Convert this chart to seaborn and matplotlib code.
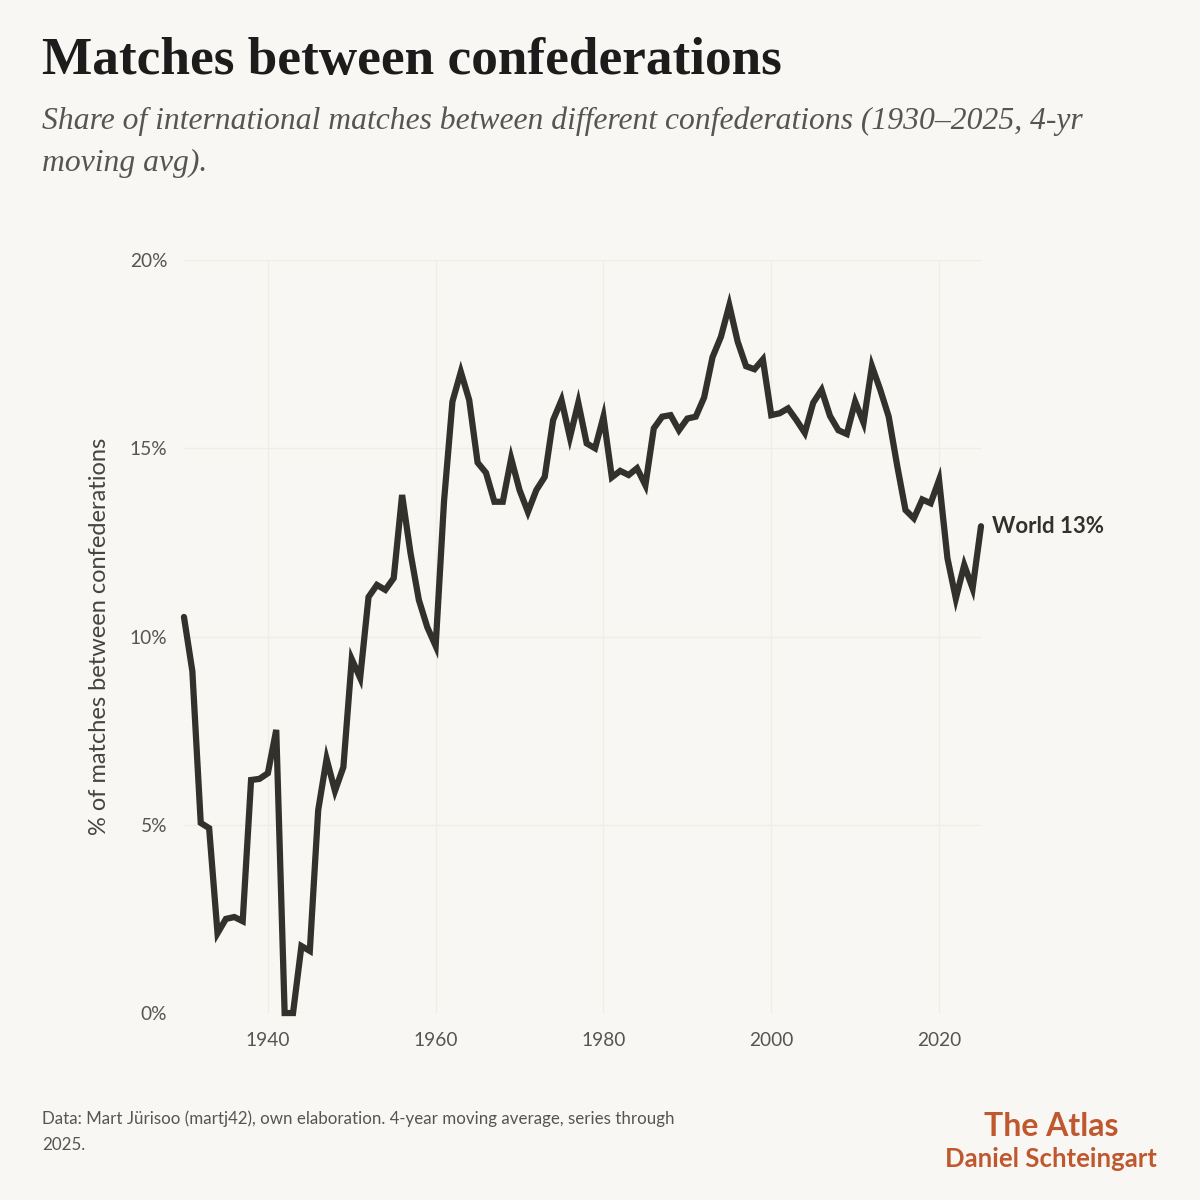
import matplotlib
matplotlib.use("Agg")
import matplotlib.pyplot as plt
import seaborn as sns
import pandas as pd

# Données : part des matchs entre confédérations (moyenne mobile 4 ans)
years = list(range(1930, 2026))
share = [
    10.52, 9.08, 5.05, 4.91, 2.12, 2.50, 2.55, 2.44, 6.19, 6.22,
    6.37, 7.52, 0.00, 0.00, 1.78, 1.65, 5.39, 6.75, 5.90, 6.53,
    9.40, 8.90, 11.05, 11.37, 11.24, 11.55, 13.76, 12.22, 10.97, 10.25,
    9.75, 13.60, 16.24, 17.03, 16.28, 14.62, 14.35, 13.58, 13.58, 14.73,
    13.89, 13.31, 13.89, 14.24, 15.75, 16.28, 15.29, 16.21, 15.13, 15.00,
    15.84, 14.23, 14.40, 14.29, 14.47, 14.02, 15.53, 15.84, 15.88, 15.48,
    15.79, 15.84, 16.35, 17.42, 17.96, 18.80, 17.83, 17.18, 17.10, 17.36,
    15.88, 15.93, 16.06, 15.75, 15.41, 16.21, 16.55, 15.86, 15.48, 15.38,
    16.24, 15.68, 17.18, 16.55, 15.84, 14.55, 13.36, 13.14, 13.64, 13.54,
    14.16, 12.08, 11.01, 11.90, 11.28, 12.93,
]
x_ticks = [1940, 1960, 1980, 2000, 2020]
y_ticks = [0, 5, 10, 15, 20]
y_tick_labels = ["0%", "5%", "10%", "15%", "20%"]

df = pd.DataFrame({"year": years, "share": share})

BG = "#f9f7f3"
INK = "#33312c"
GRID = "#f0ede6"
ORANGE = "#c0582f"
SANS = ["Lato", "DejaVu Sans"]
SERIF = ["Liberation Serif", "DejaVu Serif"]

sns.set_theme(style="white")
plt.rcParams["font.family"] = SANS

fig = plt.figure(figsize=(12, 12), dpi=100, facecolor=BG)
ax = fig.add_axes([0.1533, 0.1558, 0.6642, 0.6275])
ax.set_facecolor(BG)

sns.lineplot(data=df, x="year", y="share", ax=ax, color=INK, linewidth=4.5,
             clip_on=False, solid_joinstyle="miter")

ax.set_xlim(1930, 2025)
ax.set_ylim(0, 20)
ax.set_xticks(x_ticks)
ax.set_yticks(y_ticks)
ax.set_yticklabels(y_tick_labels)
ax.grid(True, color=GRID, linewidth=1)
for s in ax.spines.values():
    s.set_visible(False)
ax.tick_params(axis="both", length=0, labelsize=13.8, colors="#555555")
ax.tick_params(axis="y", pad=12)
ax.tick_params(axis="x", pad=14)
ax.set_xlabel("")
ax.set_ylabel("% of matches between confederations", fontsize=17,
              color="#444444", labelpad=14)

# étiquette de fin de série
ax.annotate(f"World {share[-1]:.0f}%", xy=(years[-1], share[-1]),
            xytext=(8, 0), textcoords="offset points", va="center",
            ha="left", fontsize=16, fontweight="bold", color=INK,
            annotation_clip=False)

fig.text(0.035, 0.949, "Matches between confederations", family=SERIF,
         fontsize=38.3, fontweight="bold", color="#1c1c1c", va="center")
fig.text(0.035, 0.911, "Share of international matches between different "
         "confederations (1930–2025, 4-yr\nmoving avg).", family=SERIF,
         fontsize=22.8, style="italic", color="#555555", va="top",
         linespacing=1.55)

fig.text(0.035, 0.057, "Data: Mart Jürisoo (martj42), own elaboration. "
         "4-year moving average, series through\n2025.", fontsize=12.2,
         color="#555555", va="center", linespacing=1.75)
fig.text(0.876, 0.061, "The Atlas", fontsize=23, color=ORANGE, ha="center",
         va="center", fontweight="bold")
fig.text(0.876, 0.0345, "Daniel Schteingart", fontsize=18.5, color=ORANGE,
         ha="center", va="center", fontweight="bold")

fig.savefig("out.png", dpi=100, facecolor=BG)
